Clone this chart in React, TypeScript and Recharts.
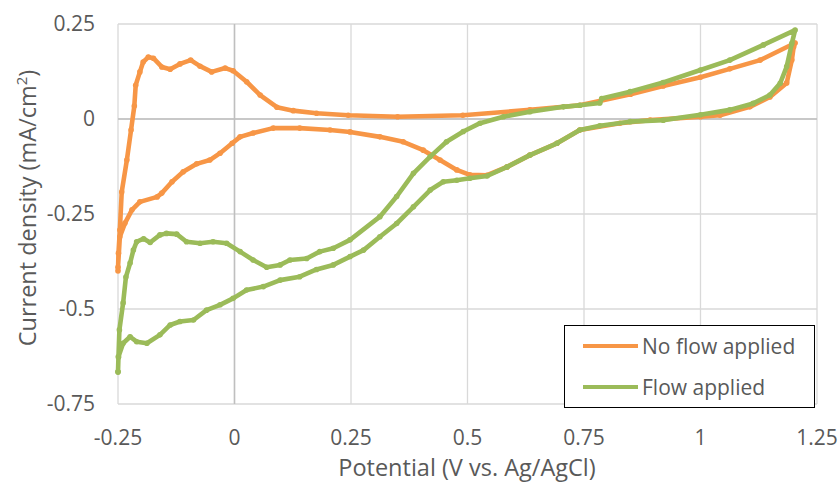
import { ScatterChart, Scatter, XAxis, YAxis, CartesianGrid, ReferenceLine, Label } from 'recharts';

// potential (V vs Ag/AgCl) and current density (mA/cm2), in sweep order
const noFlowV = [-0.25, -0.249, -0.246, -0.242, -0.231, -0.222, -0.215, -0.212, -0.203, -0.196, -0.185, -0.174, -0.156, -0.138, -0.117, -0.094, -0.074, -0.049, -0.02, -0.003, 0.026, 0.055, 0.091, 0.126, 0.176, 0.244, 0.35, 0.49, 0.634, 0.741, 0.85, 0.92, 1.0, 1.063, 1.128, 1.203,
  1.2, 1.196, 1.185, 1.149, 1.106, 1.042, 1.0, 0.892, 0.827, 0.741, 0.692, 0.634, 0.585, 0.542, 0.505, 0.477, 0.441, 0.405, 0.362, 0.312, 0.248, 0.205, 0.14, 0.083, 0.04, 0.012, -0.005, -0.031, -0.053, -0.081, -0.11, -0.134, -0.156, -0.166, -0.203, -0.22, -0.235, -0.246, -0.25]
const noFlowI = [-0.4, -0.353, -0.292, -0.192, -0.108, -0.029, 0.034, 0.089, 0.124, 0.15, 0.163, 0.16, 0.137, 0.131, 0.145, 0.155, 0.139, 0.124, 0.134, 0.127, 0.098, 0.063, 0.031, 0.022, 0.015, 0.01, 0.006, 0.01, 0.024, 0.036, 0.065, 0.087, 0.11, 0.132, 0.155, 0.2,
  0.19, 0.155, 0.095, 0.058, 0.032, 0.01, 0.006, -0.003, -0.011, -0.029, -0.064, -0.095, -0.126, -0.148, -0.147, -0.134, -0.108, -0.082, -0.06, -0.047, -0.034, -0.029, -0.024, -0.024, -0.037, -0.047, -0.064, -0.09, -0.108, -0.118, -0.139, -0.165, -0.195, -0.205, -0.218, -0.239, -0.274, -0.31, -0.39]

const flowV = [-0.25, -0.249, -0.247, -0.239, -0.233, -0.224, -0.217, -0.21, -0.195, -0.181, -0.16, -0.146, -0.124, -0.103, -0.074, -0.046, -0.017, 0.012, 0.04, 0.069, 0.098, 0.119, 0.155, 0.183, 0.212, 0.248, 0.312, 0.348, 0.384, 0.42, 0.455, 0.491, 0.527, 0.577, 0.634, 0.706, 0.741, 0.784, 0.788, 0.849, 0.92, 1.0, 1.063, 1.135, 1.203,
  1.196, 1.185, 1.171, 1.149, 1.113, 1.063, 1.0, 0.92, 0.849, 0.784, 0.741, 0.692, 0.634, 0.585, 0.542, 0.505, 0.477, 0.448, 0.42, 0.384, 0.348, 0.312, 0.277, 0.248, 0.212, 0.176, 0.14, 0.098, 0.062, 0.026, -0.003, -0.031, -0.06, -0.088, -0.117, -0.138, -0.16, -0.188, -0.21, -0.224, -0.239, -0.249, -0.25]
const flowI = [-0.666, -0.626, -0.555, -0.484, -0.416, -0.379, -0.345, -0.323, -0.315, -0.325, -0.305, -0.301, -0.303, -0.323, -0.327, -0.323, -0.327, -0.349, -0.371, -0.39, -0.384, -0.371, -0.367, -0.349, -0.34, -0.318, -0.257, -0.204, -0.143, -0.099, -0.06, -0.033, -0.011, 0.006, 0.019, 0.032, 0.036, 0.042, 0.054, 0.072, 0.096, 0.129, 0.155, 0.195, 0.234,
  0.199, 0.138, 0.094, 0.063, 0.041, 0.024, 0.011, -0.003, -0.007, -0.018, -0.029, -0.064, -0.095, -0.126, -0.15, -0.156, -0.161, -0.165, -0.187, -0.231, -0.275, -0.31, -0.345, -0.362, -0.384, -0.396, -0.415, -0.424, -0.441, -0.45, -0.472, -0.489, -0.503, -0.529, -0.533, -0.542, -0.568, -0.59, -0.586, -0.573, -0.59, -0.626, -0.665]

const xTicks = [-0.25, 0, 0.25, 0.5, 0.75, 1, 1.25]
const yTicks = [-0.75, -0.5, -0.25, 0, 0.25]

const series = [
  { name: 'No flow applied', color: '#F79646', v: noFlowV, i: noFlowI },
  { name: 'Flow applied', color: '#9BBB59', v: flowV, i: flowI },
]

const FONT = '"Open Sans", sans-serif'
const TXT = '#595959'

const dot = (color: string) => (p: any) => <circle cx={p.cx} cy={p.cy} r={2.8} fill={color} />

export default function App() {
  return (
    <div style={{ position: 'relative', width: 839, height: 487, background: '#fff' }}>
      <style>{'body{margin:0}'}</style>
      <ScatterChart width={839} height={487} margin={{ top: 24, right: 22, bottom: 0, left: 0 }}>
        <CartesianGrid stroke='#d9d9d9' strokeWidth={1.3} />
        <XAxis type='number' dataKey='v' domain={[-0.25, 1.25]} ticks={xTicks} height={83}
          axisLine={false} tickLine={false} tickSize={0} tickMargin={26} interval={0}
          tick={{ fill: TXT, fontSize: 21, fontFamily: FONT }}>
          <Label content={() => (
            <text x={467} y={476} textAnchor='middle' fill={TXT} fontSize={23.5} fontFamily={FONT}>
              Potential (V vs. Ag/AgCl)
            </text>
          )} />
        </XAxis>
        <YAxis type='number' dataKey='i' domain={[-0.75, 0.25]} ticks={yTicks} width={118}
          axisLine={false} tickLine={false} tickSize={0} tickMargin={23} interval={0}
          tick={{ fill: TXT, fontSize: 21, fontFamily: FONT }}>
          <Label content={() => (
            <text x={0} y={0} transform='translate(36,208) rotate(-90)' textAnchor='middle' fill={TXT}
              fontSize={23.5} fontFamily={FONT}>
              Current density (mA/cm<tspan dy={-9} fontSize={15}>2</tspan><tspan dy={9}>)</tspan>
            </text>
          )} />
        </YAxis>
        <ReferenceLine x={0} stroke='#bfbfbf' strokeWidth={1.5} />
        <ReferenceLine y={0} stroke='#bfbfbf' strokeWidth={1.5} />
        {series.map(s => (
          <Scatter key={s.name} name={s.name} data={s.v.map((v, k) => ({ v, i: s.i[k] }))}
            fill={s.color} line={{ stroke: s.color, strokeWidth: 4.6, strokeLinejoin: 'round' }} lineType='joint'
            shape={dot(s.color)} isAnimationActive={false} />
        ))}
      </ScatterChart>
      <div style={{ position: 'absolute', left: 564, top: 325, width: 251, height: 83, boxSizing: 'border-box',
        border: '1.5px solid #000', background: '#fff', fontFamily: FONT, fontSize: 21, color: TXT }}>
        {series.map((s, k) => (
          <div key={s.name} style={{ position: 'absolute', left: 18, top: k === 0 ? 5 : 46, display: 'flex',
            alignItems: 'center', height: 30, whiteSpace: 'nowrap' }}>
            <div style={{ width: 55, height: 4.5, background: s.color, marginRight: 4 }} />
            <span>{s.name}</span>
          </div>
        ))}
      </div>
    </div>
  )
}
